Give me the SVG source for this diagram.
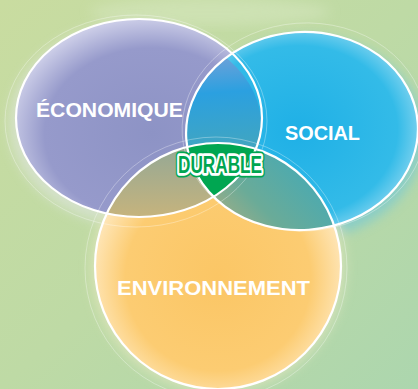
<svg xmlns="http://www.w3.org/2000/svg" width="418" height="389" viewBox="0 0 418 389">
<defs>
<linearGradient id="bg" x1="0" y1="0" x2="1" y2="1">
<stop offset="0" stop-color="#c9dca0"/>
<stop offset="0.5" stop-color="#bedaa5"/>
<stop offset="1" stop-color="#acd6ae"/>
</linearGradient>
<radialGradient id="gEco" cx="0.55" cy="0.58" r="0.62">
<stop offset="0" stop-color="#8d93c5"/>
<stop offset="0.7" stop-color="#969acb"/>
<stop offset="1" stop-color="#d8d9ee"/>
</radialGradient>
<radialGradient id="gSoc" cx="0.48" cy="0.5" r="0.6">
<stop offset="0" stop-color="#1fb0e6"/>
<stop offset="0.72" stop-color="#33bbe8"/>
<stop offset="1" stop-color="#a9e0f3"/>
</radialGradient>
<radialGradient id="gEnv" cx="0.5" cy="0.55" r="0.58">
<stop offset="0" stop-color="#fbc665"/>
<stop offset="0.65" stop-color="#fccc72"/>
<stop offset="1" stop-color="#fff1d6"/>
</radialGradient>
<linearGradient id="gES" gradientUnits="userSpaceOnUse" x1="0" y1="35" x2="0" y2="150">
<stop offset="0" stop-color="#8aa2d6"/>
<stop offset="0.45" stop-color="#2ba0e0"/>
<stop offset="1" stop-color="#43a6bd"/>
</linearGradient>
<linearGradient id="gEN" gradientUnits="userSpaceOnUse" x1="0" y1="145" x2="0" y2="220">
<stop offset="0" stop-color="#93a896"/>
<stop offset="1" stop-color="#c8b47c"/>
</linearGradient>
<linearGradient id="gSN" gradientUnits="userSpaceOnUse" x1="300" y1="150" x2="220" y2="230">
<stop offset="0" stop-color="#45aab5"/>
<stop offset="0.6" stop-color="#6aab98"/>
<stop offset="1" stop-color="#a9ae82"/>
</linearGradient>
<clipPath id="cE"><ellipse cx="139" cy="118" rx="123" ry="99"/></clipPath>
<clipPath id="cS"><ellipse cx="302" cy="131" rx="116" ry="99" transform="rotate(-4 302 131)"/></clipPath>
<filter id="blur" x="-20%" y="-20%" width="140%" height="140%"><feGaussianBlur stdDeviation="6"/></filter>
<style>
.out{fill:none;stroke:#fff;stroke-width:2.2}
.faint{fill:none;stroke:#fff;stroke-width:0.7;stroke-opacity:0.45}
.lbl{font-family:"Liberation Sans",Arial,sans-serif;font-weight:700;fill:#fff}
.dur{font-family:"Liberation Sans",Arial,sans-serif;font-weight:700;font-size:23px;stroke-linejoin:round;paint-order:stroke}
</style>
</defs>
<rect width="418" height="389" fill="url(#bg)"/>
<ellipse cx="210" cy="12" rx="120" ry="14" fill="#d8e8c2" opacity="0.5" filter="url(#blur)"/>

<g id="halos" filter="url(#blur)" opacity="0.5">
<ellipse cx="135" cy="124" rx="126" ry="102" fill="#e6e8f0"/>
<ellipse cx="306" cy="138" rx="118" ry="101" fill="#5cc3e6" transform="rotate(-4 306 138)"/>
<ellipse cx="218" cy="268" rx="127" ry="125" fill="#f4ecc8"/>
</g>

<g id="economique">
<ellipse cx="139" cy="118" rx="123" ry="99" fill="url(#gEco)"/>
</g>
<g id="social">
<ellipse cx="302" cy="131" rx="116" ry="99" transform="rotate(-4 302 131)" fill="url(#gSoc)"/>
</g>
<g id="environnement">
<circle cx="218" cy="266" r="123" fill="url(#gEnv)"/>
</g>

<g id="overlaps">
<ellipse cx="302" cy="131" rx="116" ry="99" transform="rotate(-4 302 131)" fill="url(#gES)" clip-path="url(#cE)"/>
<circle cx="218" cy="266" r="123" fill="url(#gEN)" clip-path="url(#cE)"/>
<circle cx="218" cy="266" r="123" fill="url(#gSN)" clip-path="url(#cS)"/>
<g clip-path="url(#cE)"><circle cx="218" cy="266" r="123" fill="#00a651" clip-path="url(#cS)"/></g>
</g>

<g id="connectors">
<ellipse class="faint" cx="136" cy="121" rx="131" ry="106"/>
<ellipse class="faint" cx="304" cy="127" rx="122" ry="104" transform="rotate(-4 304 127)"/>
<ellipse class="faint" cx="216" cy="268" rx="131" ry="131"/>
<ellipse class="out" cx="139" cy="118" rx="123" ry="99"/>
<ellipse class="out" cx="302" cy="131" rx="116" ry="99" transform="rotate(-4 302 131)"/>
<circle class="out" cx="218" cy="266" r="123"/>
</g>

<g id="labels">
<text class="lbl" x="36" y="117" font-size="19.5" textLength="147" lengthAdjust="spacingAndGlyphs">ÉCONOMIQUE</text>
<text class="lbl" x="285" y="140" font-size="21" textLength="75" lengthAdjust="spacingAndGlyphs">SOCIAL</text>
<text class="lbl" x="117" y="295" font-size="21" textLength="193" lengthAdjust="spacingAndGlyphs">ENVIRONNEMENT</text>
</g>
<g id="durable">
<text class="dur" x="178" y="173" textLength="84" lengthAdjust="spacingAndGlyphs" fill="#00a651" stroke="#00a651" stroke-width="9">DURABLE</text>
<text class="dur" x="178" y="173" textLength="84" lengthAdjust="spacingAndGlyphs" fill="#00a651" stroke="#fff" stroke-width="5.5">DURABLE</text>
</g>
</svg>
